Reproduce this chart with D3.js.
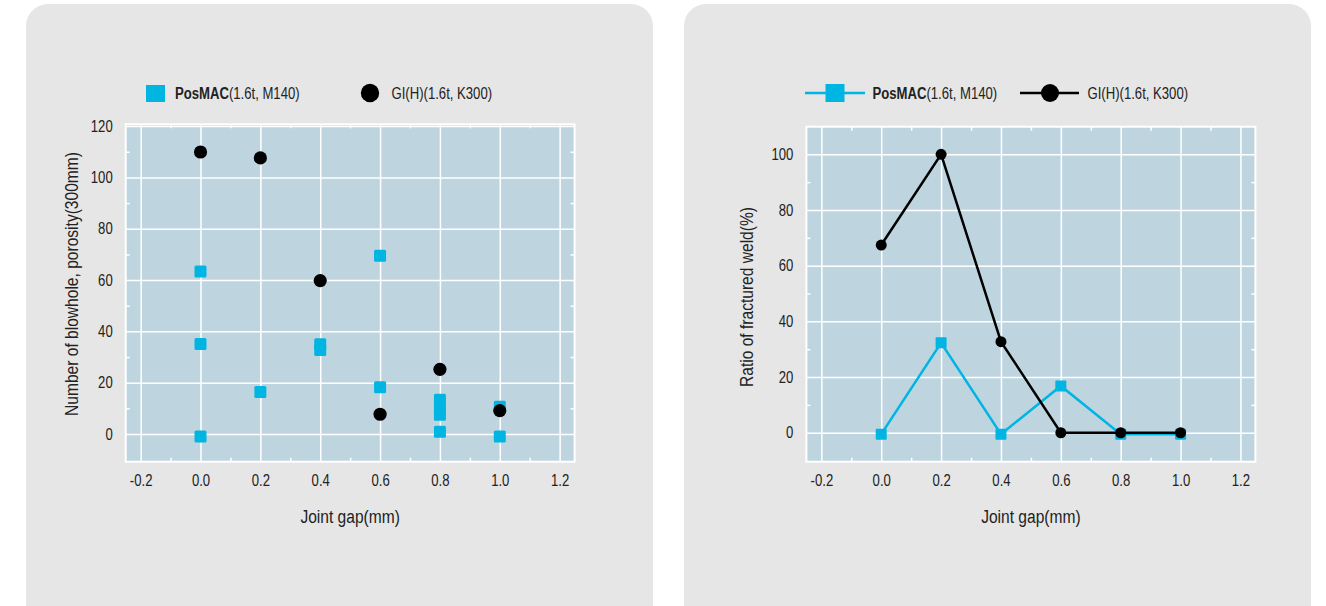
<!DOCTYPE html>
<html>
<head>
<meta charset="utf-8">
<script src="https://cdn.jsdelivr.net/npm/d3@7"></script>
<style>
  html, body { margin: 0; padding: 0; background: #ffffff; }
  svg { display: block; }
  text { font-family: "Liberation Sans", Arial, sans-serif; fill: #222; }
</style>
</head>
<body>
<svg id="chart" width="1326" height="606"></svg>
<script>
// ---------- data ----------
const xTickValues = [-0.2, 0.0, 0.2, 0.4, 0.6, 0.8, 1.0, 1.2];
const xMinorValues = [-0.1, 0.1, 0.3, 0.5, 0.7, 0.9, 1.1];

const leftYTicks = [0, 20, 40, 60, 80, 100, 120];
const leftYMinor = [10, 30, 50, 70, 90, 110];
const rightYTicks = [0, 20, 40, 60, 80, 100];
const rightYMinor = [10, 30, 50, 70, 90];

// Left chart: number of blowholes (scatter)
const blowPosmacGap = [0, 0, 0, 0.2, 0.4, 0.4, 0.6, 0.6, 0.8, 0.8, 0.8, 0.8, 1.0, 1.0];
const blowPosmacCount = [63.3, 35.1, -1, 16.4, 35, 32.7, 69.5, 18.2, 13.3, 9.7, 7.5, 0.9, 10.6, -1];
const blowGiGap = [0, 0.2, 0.4, 0.6, 0.8, 1.0];
const blowGiCount = [109.9, 107.6, 59.8, 7.7, 25.2, 9.1];

// Right chart: ratio of fractured weld (lines)
const ratioGap = [0, 0.2, 0.4, 0.6, 0.8, 1.0];
const ratioPosmac = [-0.5, 32.3, -0.5, 16.8, -0.5, -0.5];
const ratioGi = [67.4, 100, 32.7, 0, 0, 0];

const seriesNames = ["PosMAC", "GI(H)"];
const seriesSuffix = ["(1.6t, M140)", "(1.6t, K300)"];
const xTitle = "Joint gap(mm)";
const leftYTitle = "Number of blowhole, porosity(300mm)";
const rightYTitle = "Ratio of fractured weld(%)";

// ---------- style ----------
const CYAN = "#00b5e2";
const PANEL = "#e6e6e6";
const PLOTBG = "#bed5e0";
const NARROW = 0.82; // condensed look via horizontal scale

const svg = d3.select("#chart");

function narrow(sel) {
  sel.each(function () {
    const s = d3.select(this);
    const x = +(s.attr("x") || 0);
    const tr = s.attr("transform") || "";
    s.attr("x", x / NARROW).attr("transform", (tr + ` scale(${NARROW},1)`).trim());
  });
  return sel;
}

// panels
[26, 684].forEach(px => {
  svg.append("rect").attr("x", px).attr("y", 4).attr("width", 627).attr("height", 626)
    .attr("rx", 22).attr("ry", 22).attr("fill", PANEL);
});

function buildFrame(opt) {
  const g = svg.append("g");
  const x = d3.scaleLinear().domain([-0.25, 1.25]).range([opt.left, opt.right]);
  const y = d3.scaleLinear().domain(opt.yDomain).range([opt.bottom, opt.top]);
  const w = opt.right - opt.left, h = opt.bottom - opt.top;

  g.append("rect").attr("x", opt.left).attr("y", opt.top).attr("width", w).attr("height", h)
    .attr("fill", PLOTBG);

  // grid
  const gx = g.append("g").attr("transform", `translate(0,${opt.bottom})`)
    .call(d3.axisBottom(x).tickValues(xTickValues).tickSize(-h).tickFormat(""));
  const gy = g.append("g").attr("transform", `translate(${opt.left},0)`)
    .call(d3.axisLeft(y).tickValues(opt.yTicks).tickSize(-w).tickFormat(""));
  [gx, gy].forEach(a => {
    a.select(".domain").remove();
    a.selectAll(".tick line").attr("stroke", "#fff").attr("stroke-width", 1.5);
  });

  // minor ticks (inward)
  const minors = [
    g.append("g").attr("transform", `translate(0,${opt.bottom})`).call(d3.axisBottom(x).tickValues(xMinorValues).tickSize(-4).tickFormat("")),
    g.append("g").attr("transform", `translate(0,${opt.top})`).call(d3.axisTop(x).tickValues(xMinorValues).tickSize(-4).tickFormat("")),
    g.append("g").attr("transform", `translate(${opt.left},0)`).call(d3.axisLeft(y).tickValues(opt.yMinor).tickSize(-4).tickFormat("")),
    g.append("g").attr("transform", `translate(${opt.right},0)`).call(d3.axisRight(y).tickValues(opt.yMinor).tickSize(-4).tickFormat(""))
  ];
  minors.forEach(a => {
    a.select(".domain").remove();
    a.selectAll(".tick line").attr("stroke", "#fff").attr("stroke-width", 1.5);
  });

  // border
  g.append("rect").attr("x", opt.left).attr("y", opt.top).attr("width", w).attr("height", h)
    .attr("fill", "none").attr("stroke", "#fff").attr("stroke-width", 2);

  // tick labels
  const lx = g.append("g").attr("transform", `translate(0,${opt.bottom})`)
    .call(d3.axisBottom(x).tickValues(xTickValues).tickSize(0).tickPadding(13).tickFormat(d => d.toFixed(1)));
  const ly = g.append("g").attr("transform", `translate(${opt.left},0)`)
    .call(d3.axisLeft(y).tickValues(opt.yTicks).tickSize(0).tickPadding(13).tickFormat(d => String(d)));
  [lx, ly].forEach(a => {
    a.attr("font-family", null).attr("font-size", null);
    a.select(".domain").remove();
    a.selectAll("text").attr("font-size", 16).attr("fill", "#222");
    narrow(a.selectAll("text"));
  });

  // titles
  narrow(g.append("text").attr("x", (opt.left + opt.right) / 2).attr("y", 523)
    .attr("text-anchor", "middle").attr("font-size", 19).text(xTitle));
  narrow(g.append("text").attr("transform", `translate(${opt.yTitleX},${opt.yTitleY}) rotate(-90)`)
    .attr("text-anchor", "middle").attr("dominant-baseline", "central")
    .attr("font-size", 19).text(opt.yTitle));

  return { g, x, y };
}

function legendText(g, xPos, name, suffix, boldName) {
  const t = g.append("text").attr("x", xPos).attr("y", 99).attr("font-size", 16);
  t.append("tspan").attr("font-weight", boldName ? "bold" : "normal").text(name);
  t.append("tspan").text(suffix);
  narrow(t);
}

// ---------- left chart ----------
const L = buildFrame({
  left: 125.7, right: 574.6, top: 124.3, bottom: 461.7,
  yDomain: [-10.8, 120.7], yTicks: leftYTicks, yMinor: leftYMinor,
  yTitle: leftYTitle, yTitleX: 71, yTitleY: 284
});

L.g.append("g").selectAll("rect").data(blowPosmacGap).join("rect")
  .attr("x", (d) => L.x(d) - 6)
  .attr("y", (d, i) => L.y(blowPosmacCount[i]) - 6)
  .attr("width", 12).attr("height", 12).attr("rx", 1.5).attr("fill", CYAN);
L.g.append("g").selectAll("circle").data(blowGiGap).join("circle")
  .attr("cx", d => L.x(d)).attr("cy", (d, i) => L.y(blowGiCount[i]))
  .attr("r", 6.6).attr("fill", "#000");

// left legend
L.g.append("rect").attr("x", 146).attr("y", 85).attr("width", 19).attr("height", 17).attr("fill", CYAN);
legendText(L.g, 175, seriesNames[0], seriesSuffix[0], true);
L.g.append("circle").attr("cx", 370).attr("cy", 93).attr("r", 9.2).attr("fill", "#000");
legendText(L.g, 391.5, seriesNames[1], seriesSuffix[1], false);

// ---------- right chart ----------
const R = buildFrame({
  left: 806.4, right: 1255.4, top: 126.7, bottom: 461.7,
  yDomain: [-10.4, 109.9], yTicks: rightYTicks, yMinor: rightYMinor,
  yTitle: rightYTitle, yTitleX: 746, yTitleY: 297
});

const line = d3.line().x(d => R.x(d[0])).y(d => R.y(d[1]));
const posPts = ratioGap.map((g, i) => [g, ratioPosmac[i]]);
const giPts = ratioGap.map((g, i) => [g, ratioGi[i]]);

R.g.append("path").datum(posPts).attr("d", line).attr("fill", "none")
  .attr("stroke", CYAN).attr("stroke-width", 2.5);
R.g.append("g").selectAll("rect").data(posPts).join("rect")
  .attr("x", d => R.x(d[0]) - 5.5).attr("y", d => R.y(d[1]) - 5.5)
  .attr("width", 11).attr("height", 11).attr("rx", 1).attr("fill", CYAN);
R.g.append("path").datum(giPts).attr("d", line).attr("fill", "none")
  .attr("stroke", "#000").attr("stroke-width", 2.5);
R.g.append("g").selectAll("circle").data(giPts).join("circle")
  .attr("cx", d => R.x(d[0])).attr("cy", d => R.y(d[1])).attr("r", 5.5).attr("fill", "#000");

// right legend
R.g.append("line").attr("x1", 805).attr("x2", 865).attr("y1", 93).attr("y2", 93)
  .attr("stroke", CYAN).attr("stroke-width", 2.5);
R.g.append("rect").attr("x", 825.5).attr("y", 84).attr("width", 19).attr("height", 18).attr("fill", CYAN);
legendText(R.g, 872.5, seriesNames[0], seriesSuffix[0], true);
R.g.append("line").attr("x1", 1020).attr("x2", 1079).attr("y1", 93).attr("y2", 93)
  .attr("stroke", "#000").attr("stroke-width", 2.5);
R.g.append("circle").attr("cx", 1050).attr("cy", 93).attr("r", 9).attr("fill", "#000");
legendText(R.g, 1087.5, seriesNames[1], seriesSuffix[1], false);
</script>
</body>
</html>
